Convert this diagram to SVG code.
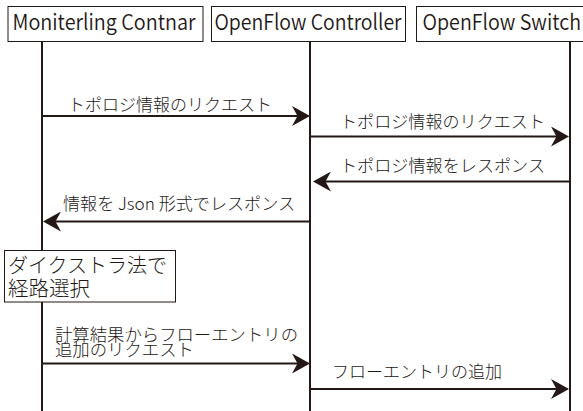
<svg xmlns="http://www.w3.org/2000/svg" width="583" height="411" viewBox="0 0 583 411">
  <style>
    .box { fill: #ffffff; stroke: #231815; stroke-width: 1; }
    .life { stroke: #231815; stroke-width: 2; fill: none; }
    .msg { stroke: #231815; stroke-width: 2; fill: none; marker-end: url(#head); }
    .hdr { font-family: "Noto Sans CJK JP", "Noto Sans", sans-serif; font-size: 22px; font-weight: 350; fill: #231815; }
    .lbl { font-family: "Noto Sans CJK JP", "Noto Sans", sans-serif; font-size: 17px; font-weight: 300; fill: #231815; }
    .note { font-family: "Noto Sans CJK JP", sans-serif; font-size: 20.5px; font-weight: 300; fill: #231815; }
  </style>
  <defs>
    <!-- barbed arrowhead; refX sits behind the tip so the shaft ends inside the head -->
    <marker id="head" viewBox="0 0 18 20" markerWidth="18" markerHeight="20" markerUnits="userSpaceOnUse" refX="6" refY="10" orient="auto">
      <path d="M0,0 L18,10 L0,20 L5.5,10 Z" fill="#231815"/>
    </marker>
  </defs>
  <rect width="583" height="411" fill="#ffffff"/>

  <!-- lifelines -->
  <g id="lifelines">
    <line class="life" x1="42" y1="41" x2="42" y2="411"/>
    <line class="life" x1="310" y1="41" x2="310" y2="411"/>
    <line class="life" x1="570" y1="41" x2="570" y2="411"/>
  </g>

  <!-- participants -->
  <g id="monitoring">
    <rect class="box" x="8" y="6.5" width="195" height="35"/>
    <text class="hdr" x="12.5" y="30" textLength="183" lengthAdjust="spacingAndGlyphs">Moniterling Contnar</text>
  </g>
  <g id="controller">
    <rect class="box" x="211.5" y="6.5" width="194" height="35"/>
    <text class="hdr" x="214.5" y="30" textLength="187" lengthAdjust="spacingAndGlyphs">OpenFlow Controller</text>
  </g>
  <g id="switch">
    <rect class="box" x="416.5" y="6.5" width="180" height="35"/>
    <text class="hdr" x="422.5" y="30" textLength="158.5" lengthAdjust="spacingAndGlyphs">OpenFlow Switch</text>
  </g>

  <!-- messages -->
  <g id="connectors">
    <line class="msg" x1="42" y1="116" x2="298" y2="116"/>
    <text class="lbl" x="68" y="110.5" textLength="204" lengthAdjust="spacingAndGlyphs">トポロジ情報のリクエスト</text>

    <line class="msg" x1="310" y1="136.5" x2="557" y2="136.5"/>
    <text class="lbl" x="340" y="128" textLength="205" lengthAdjust="spacingAndGlyphs">トポロジ情報のリクエスト</text>

    <line class="msg" x1="570" y1="181.5" x2="325" y2="181.5"/>
    <text class="lbl" x="340" y="171.5" textLength="205" lengthAdjust="spacingAndGlyphs">トポロジ情報をレスポンス</text>

    <line class="msg" x1="310" y1="221.5" x2="55" y2="221.5"/>
    <text class="lbl" x="63" y="209.5" textLength="232" lengthAdjust="spacingAndGlyphs">情報を Json 形式でレスポンス</text>

    <line class="msg" x1="42" y1="363.5" x2="298" y2="363.5"/>
    <text class="lbl" x="55" y="341" textLength="243" lengthAdjust="spacingAndGlyphs">計算結果からフローエントリの</text>
    <text class="lbl" x="55" y="355.5" textLength="139" lengthAdjust="spacingAndGlyphs">追加のリクエスト</text>

    <line class="msg" x1="310" y1="389" x2="557" y2="389"/>
    <text class="lbl" x="332" y="377.5" textLength="170" lengthAdjust="spacingAndGlyphs">フローエントリの追加</text>
  </g>

  <!-- local computation note on the monitoring lifeline -->
  <g id="dijkstra">
    <rect class="box" x="4.5" y="250.5" width="171" height="51.5"/>
    <text class="note" x="8" y="273" textLength="159" lengthAdjust="spacingAndGlyphs">ダイクストラ法で</text>
    <text class="note" x="8" y="295.5" textLength="82" lengthAdjust="spacingAndGlyphs">経路選択</text>
  </g>
</svg>
